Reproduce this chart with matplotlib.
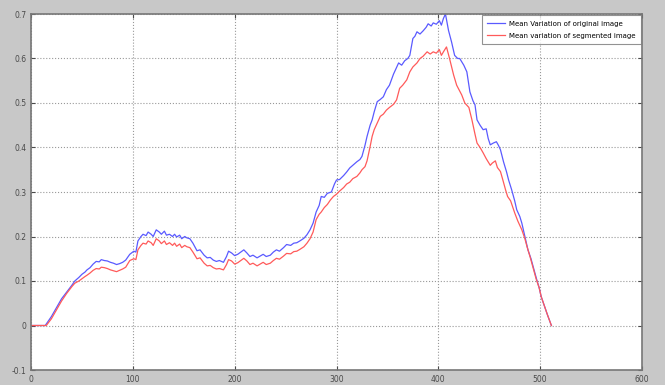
import matplotlib.pyplot as plt
from matplotlib.ticker import MultipleLocator

# values
x_orig = [0, 10, 14, 20, 25, 30, 35, 40, 43, 47, 50, 53, 55, 58, 61, 64, 67, 69, 72, 75,
          78, 81, 84, 87, 90, 93, 97, 101, 103, 105, 108, 110, 113, 115, 118, 120, 123, 126, 128, 131,
          133, 136, 139, 141, 143, 146, 148, 151, 153, 156, 159, 163, 166, 170, 173, 176, 179, 182, 185, 189,
          192, 194, 197, 200, 203, 206, 209, 212, 215, 218, 222, 225, 228, 231, 235, 238, 241, 244, 248, 251,
          255, 258, 261, 264, 268, 271, 274, 277, 280, 283, 285, 288, 291, 295, 298, 300, 303, 307, 310, 313,
          316, 320, 323, 325, 328, 330, 333, 335, 337, 340, 343, 346, 349, 352, 356, 359, 361, 364, 367, 370,
          372, 375, 377, 379, 382, 385, 388, 390, 393, 395, 398, 401, 403, 405, 407, 410, 413, 416, 419, 421,
          425, 428, 431, 434, 436, 438, 441, 444, 447, 449, 451, 454, 457, 459, 461, 464, 467, 469, 472, 475,
          477, 480, 482, 485, 488, 491, 494, 497, 499, 501, 504, 507, 511]
y_orig = [0, 0, 0, 0.02, 0.04, 0.06, 0.075, 0.09, 0.1, 0.108, 0.115, 0.12, 0.125, 0.13, 0.138, 0.144, 0.143, 0.148, 0.146, 0.145,
          0.142, 0.14, 0.137, 0.139, 0.142, 0.147, 0.16, 0.167, 0.165, 0.19, 0.2, 0.205, 0.202, 0.21, 0.205, 0.2, 0.215, 0.21, 0.205, 0.212,
          0.203, 0.205, 0.2, 0.205, 0.199, 0.203, 0.195, 0.2, 0.197, 0.195, 0.185, 0.168, 0.17, 0.158, 0.152, 0.153, 0.147, 0.144, 0.146, 0.142,
          0.155, 0.167, 0.163, 0.157, 0.16, 0.165, 0.17, 0.163, 0.155, 0.158, 0.152, 0.156, 0.16, 0.155, 0.158, 0.165, 0.17, 0.167, 0.175, 0.182,
          0.18, 0.185, 0.186, 0.19, 0.196, 0.204, 0.215, 0.23, 0.255, 0.27, 0.29, 0.288, 0.297, 0.3, 0.318, 0.327, 0.328, 0.337, 0.345, 0.354,
          0.36, 0.368, 0.373, 0.38, 0.405, 0.425, 0.45, 0.462, 0.48, 0.503, 0.508, 0.514, 0.53, 0.54, 0.565, 0.58, 0.59, 0.585, 0.595, 0.6,
          0.607, 0.645, 0.65, 0.66, 0.655, 0.662, 0.67, 0.678, 0.673, 0.68, 0.677, 0.685, 0.675, 0.69, 0.7, 0.663, 0.637, 0.607, 0.6, 0.6,
          0.585, 0.57, 0.525, 0.505, 0.496, 0.462, 0.45, 0.44, 0.442, 0.42, 0.406, 0.41, 0.413, 0.405, 0.395, 0.368, 0.345, 0.327, 0.305, 0.28,
          0.26, 0.245, 0.23, 0.2, 0.17, 0.15, 0.125, 0.1, 0.085, 0.065, 0.045, 0.025, 0]

x_seg = [0, 10, 15, 20, 25, 30, 35, 40, 43, 47, 50, 53, 55, 58, 61, 64, 67, 69, 72, 75,
         78, 81, 84, 87, 90, 93, 97, 101, 103, 105, 108, 110, 113, 115, 118, 120, 123, 126, 128, 131,
         133, 136, 139, 141, 143, 146, 148, 151, 153, 156, 159, 163, 166, 170, 173, 176, 179, 182, 185, 189,
         192, 194, 197, 200, 203, 206, 209, 212, 215, 218, 222, 225, 228, 231, 235, 238, 241, 244, 248, 251,
         255, 258, 261, 264, 268, 271, 274, 277, 280, 283, 285, 288, 291, 294, 297, 300, 303, 307, 310, 313,
         316, 320, 323, 325, 328, 330, 333, 335, 337, 340, 343, 346, 349, 352, 356, 359, 362, 365, 369, 372,
         375, 379, 382, 385, 389, 392, 395, 398, 401, 403, 405, 408, 411, 415, 418, 423, 426, 430, 433, 436,
         438, 441, 444, 447, 451, 453, 456, 458, 461, 463, 466, 468, 471, 475, 478, 482, 485, 487, 490, 493,
         496, 499, 501, 504, 507, 511]
y_seg = [0, 0, 0, 0.015, 0.035, 0.055, 0.072, 0.087, 0.095, 0.1, 0.105, 0.11, 0.113, 0.118, 0.124, 0.128, 0.127, 0.131, 0.13, 0.128,
         0.125, 0.123, 0.121, 0.124, 0.127, 0.131, 0.146, 0.15, 0.148, 0.17, 0.18, 0.185, 0.183, 0.19, 0.186, 0.18, 0.195, 0.19, 0.184, 0.19,
         0.182, 0.186, 0.18, 0.185, 0.178, 0.183, 0.175, 0.18, 0.177, 0.175, 0.165, 0.15, 0.152, 0.14, 0.134, 0.135, 0.13, 0.127, 0.128, 0.125,
         0.137, 0.148, 0.145, 0.138, 0.141, 0.146, 0.151, 0.145, 0.137, 0.14, 0.134, 0.138, 0.142, 0.137, 0.14, 0.146, 0.151, 0.149, 0.156, 0.162,
         0.161, 0.166, 0.167, 0.171, 0.177, 0.185, 0.195, 0.21, 0.238, 0.25, 0.255, 0.265, 0.272, 0.282, 0.29, 0.295, 0.302, 0.31, 0.318, 0.322,
         0.33, 0.335, 0.343, 0.35, 0.357, 0.37, 0.402, 0.425, 0.44, 0.455, 0.47, 0.475, 0.484, 0.49, 0.497, 0.507, 0.533, 0.54, 0.552, 0.57,
         0.581, 0.59, 0.6, 0.605, 0.615, 0.61, 0.615, 0.612, 0.62, 0.607, 0.615, 0.626, 0.6, 0.563, 0.54, 0.518, 0.5, 0.49, 0.462, 0.43,
         0.41, 0.4, 0.388, 0.375, 0.36, 0.365, 0.37, 0.355, 0.346, 0.33, 0.305, 0.29, 0.28, 0.253, 0.235, 0.215, 0.195, 0.178, 0.155, 0.13,
         0.105, 0.085, 0.065, 0.045, 0.025, 0]

labels = ['Mean Variation of original image', 'Mean variation of segmented image']

fig = plt.figure(figsize=(6.65, 3.85), dpi=100, facecolor='#c8c8c8')
ax = fig.add_axes([31 / 665, 15 / 385, 611 / 665, 356 / 385])
ax.set_facecolor('white')

ax.plot(x_orig, y_orig, color='#5a5aff', linewidth=0.9, label=labels[0])
ax.plot(x_seg, y_seg, color='#ff5a5a', linewidth=0.9, label=labels[1])

ax.set_xlim(0, 600)
ax.set_ylim(-0.1, 0.7)
ax.xaxis.set_major_locator(MultipleLocator(100))
ax.yaxis.set_major_locator(MultipleLocator(0.1))
ax.yaxis.set_major_formatter(plt.FuncFormatter(lambda v, p: '0' if abs(v) < 1e-9 else f'{v:g}'))
ax.tick_params(direction='in', labelsize=5.5, colors='#4a4a4a', length=3, top=True, right=True)
ax.grid(True, linestyle=':', color='#999999', linewidth=0.8)
for s in ax.spines.values():
    s.set_color('#777777')
    s.set_linewidth(1.2)

leg = ax.legend(loc='upper right', fontsize=5, frameon=True, fancybox=False,
                borderaxespad=0.15, handlelength=2.6, labelspacing=0.9,
                borderpad=0.8, handletextpad=0.5)
leg.get_frame().set_edgecolor('#777777')
leg.get_frame().set_linewidth(0.8)

plt.savefig('out.png', dpi=100, facecolor=fig.get_facecolor())
